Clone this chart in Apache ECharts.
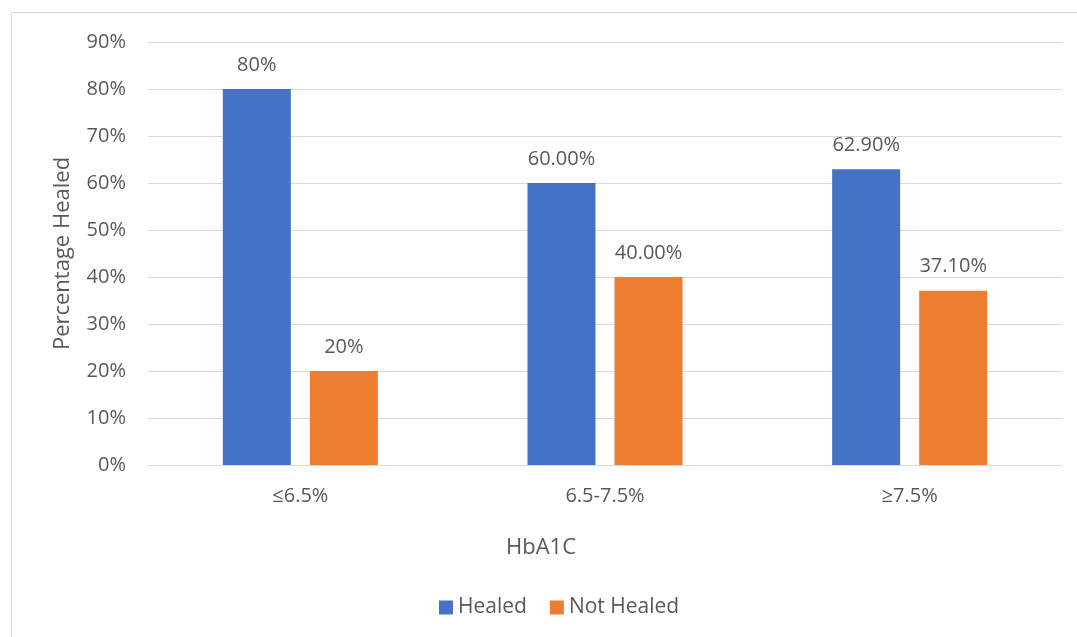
<!DOCTYPE html>
<html>
<head>
<meta charset="utf-8">
<script src="https://cdn.jsdelivr.net/npm/echarts@6/dist/echarts.min.js"></script>
<style>
  html, body { margin: 0; padding: 0; background: #fff; }
  #chart { width: 1077px; height: 637px; }
</style>
</head>
<body>
<div id="chart"></div>
<script>
// HbA1C bands and healing outcome percentages
const categories = ['≤6.5%', '6.5-7.5%', '≥7.5%'];
const healed = [80, 60, 62.9];
const notHealed = [20, 40, 37.1];
// decimals shown in each band's value labels
const labelDecimals = [0, 2, 2];
const yTicks = { min: 0, max: 90, interval: 10 };

const textColor = '#595959';
const fontFamily = '"Open Sans", "Liberation Sans", sans-serif';

function labelFor(params) {
  return params.value.toFixed(labelDecimals[params.dataIndex]) + '%';
}

const chart = echarts.init(document.getElementById('chart'), null, { renderer: 'canvas' });
chart.setOption({
  animation: false,
  textStyle: { fontFamily: fontFamily, color: textColor },
  grid: { left: 148, right: 15, top: 42, bottom: 172, containLabel: false },
  xAxis: {
    type: 'category',
    data: categories,
    axisLine: { lineStyle: { color: '#d9d9d9', width: 1 } },
    axisTick: { show: false },
    axisLabel: { color: textColor, fontSize: 20, margin: 21, fontFamily: fontFamily }
  },
  yAxis: {
    type: 'value',
    min: yTicks.min,
    max: yTicks.max,
    interval: yTicks.interval,
    axisLine: { show: false },
    axisTick: { show: false },
    splitLine: { lineStyle: { color: '#d9d9d9', width: 1 } },
    axisLabel: { color: textColor, fontSize: 20, margin: 22, formatter: '{value}%', fontFamily: fontFamily },
    name: 'Percentage Healed',
    nameLocation: 'middle',
    nameGap: 74,
    nameRotate: 90,
    nameTextStyle: { color: textColor, fontSize: 22, fontFamily: fontFamily }
  },
  legend: {
    data: ['Healed', 'Not Healed'],
    top: 592,
    left: 434,
    icon: 'rect',
    itemWidth: 14,
    itemHeight: 14,
    itemGap: 23,
    textStyle: { color: textColor, fontSize: 21, fontFamily: fontFamily }
  },
  graphic: [
    {
      type: 'rect',
      shape: { x: 11.5, y: 12.5, width: 1100, height: 700 },
      style: { fill: 'none', stroke: '#d9d9d9', lineWidth: 1 },
      silent: true
    },
    {
      type: 'text',
      x: 541,
      y: 548,
      style: {
        text: 'HbA1C', fill: textColor, font: '22px ' + fontFamily,
        textAlign: 'center', textVerticalAlign: 'middle'
      }
    }
  ],
  series: [
    {
      name: 'Healed',
      type: 'bar',
      data: healed,
      barWidth: 68,
      barGap: '28%',
      itemStyle: { color: '#4472c4' },
      label: {
        show: true, position: 'top', distance: 14,
        color: textColor, fontSize: 20, fontFamily: fontFamily,
        formatter: labelFor
      }
    },
    {
      name: 'Not Healed',
      type: 'bar',
      data: notHealed,
      barWidth: 68,
      itemStyle: { color: '#ed7d31' },
      label: {
        show: true, position: 'top', distance: 14,
        color: textColor, fontSize: 20, fontFamily: fontFamily,
        formatter: labelFor
      }
    }
  ]
});
</script>
</body>
</html>
